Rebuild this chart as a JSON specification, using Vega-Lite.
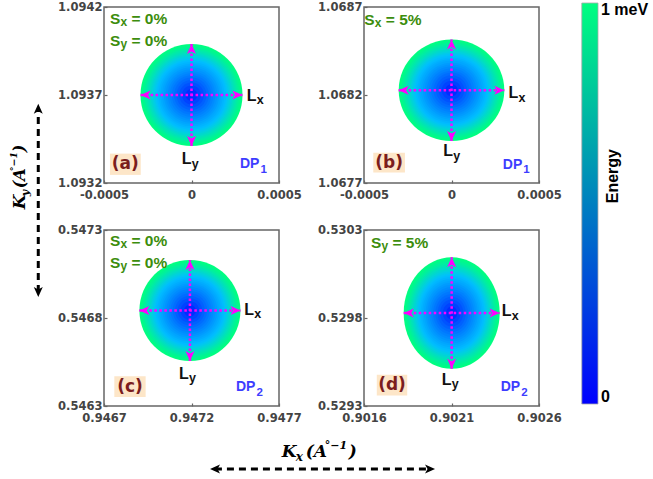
{
  "$schema": "https://vega.github.io/schema/vega-lite/v6.json",
  "padding": 0,
  "background": "white",
  "datasets": {
    "discs": [
      {"panel": "a", "kx": 0, "ky": 1.0937, "e": [1,0.96,0.92,0.88,0.84,0.8,0.76,0.72,0.68,0.64,0.6,0.56,0.52,0.48,0.44,0.4,0.36,0.32,0.28,0.24,0.2,0.16,0.12,0.08,0.04]},
      {"panel": "b", "kx": 0, "ky": 1.068227, "e": [1,0.96,0.92,0.88,0.84,0.8,0.76,0.72,0.68,0.64,0.6,0.56,0.52,0.48,0.44,0.4,0.36,0.32,0.28,0.24,0.2,0.16,0.12,0.08,0.04]},
      {"panel": "c", "kx": 0.947191, "ky": 0.546842, "e": [1,0.96,0.92,0.88,0.84,0.8,0.76,0.72,0.68,0.64,0.6,0.56,0.52,0.48,0.44,0.4,0.36,0.32,0.28,0.24,0.2,0.16,0.12,0.08,0.04]},
      {"panel": "d", "kx": 0.902101, "ky": 0.529828, "e": [1,0.96,0.92,0.88,0.84,0.8,0.76,0.72,0.68,0.64,0.6,0.56,0.52,0.48,0.44,0.4,0.36,0.32,0.28,0.24,0.2,0.16,0.12,0.08,0.04]}
    ],
    "arrows": [
      {"panel": "a", "kx": -0.000291, "kx2": 0.000291, "ky": 1.0937, "ky2": 1.0937},
      {"panel": "a", "kx": 0, "kx2": 0, "ky": 1.09341, "ky2": 1.09399},
      {"panel": "b", "kx": -0.000302, "kx2": 0.000302, "ky": 1.068227, "ky2": 1.068227},
      {"panel": "b", "kx": 0, "kx2": 0, "ky": 1.067938, "ky2": 1.068516},
      {"panel": "c", "kx": 0.946902, "kx2": 0.94748, "ky": 0.546842, "ky2": 0.546842},
      {"panel": "c", "kx": 0.947191, "kx2": 0.947191, "ky": 0.546555, "ky2": 0.547129},
      {"panel": "d", "kx": 0.901827, "kx2": 0.902375, "ky": 0.529828, "ky2": 0.529828},
      {"panel": "d", "kx": 0.902101, "kx2": 0.902101, "ky": 0.529511, "ky2": 0.530145}
    ],
    "heads": [
      {"panel": "a", "kx": -0.000291, "ky": 1.0937, "dir": "left"},
      {"panel": "a", "kx": 0.000291, "ky": 1.0937, "dir": "right"},
      {"panel": "a", "kx": 0, "ky": 1.09399, "dir": "up"},
      {"panel": "a", "kx": 0, "ky": 1.09341, "dir": "down"},
      {"panel": "b", "kx": -0.000302, "ky": 1.068227, "dir": "left"},
      {"panel": "b", "kx": 0.000302, "ky": 1.068227, "dir": "right"},
      {"panel": "b", "kx": 0, "ky": 1.068516, "dir": "up"},
      {"panel": "b", "kx": 0, "ky": 1.067938, "dir": "down"},
      {"panel": "c", "kx": 0.946902, "ky": 0.546842, "dir": "left"},
      {"panel": "c", "kx": 0.94748, "ky": 0.546842, "dir": "right"},
      {"panel": "c", "kx": 0.947191, "ky": 0.547129, "dir": "up"},
      {"panel": "c", "kx": 0.947191, "ky": 0.546555, "dir": "down"},
      {"panel": "d", "kx": 0.901827, "ky": 0.529828, "dir": "left"},
      {"panel": "d", "kx": 0.902375, "ky": 0.529828, "dir": "right"},
      {"panel": "d", "kx": 0.902101, "ky": 0.530145, "dir": "up"},
      {"panel": "d", "kx": 0.902101, "ky": 0.529511, "dir": "down"}
    ],
    "boxes": [
      {"panel": "a", "kx": -0.000466, "kx2": -0.00029, "ky": 1.093367, "ky2": 1.093246},
      {"panel": "b", "kx": -0.000447, "kx2": -0.000266, "ky": 1.067872, "ky2": 1.067759},
      {"panel": "c", "kx": 0.946759, "kx2": 0.946938, "ky": 0.546469, "ky2": 0.546351},
      {"panel": "d", "kx": 0.901673, "kx2": 0.901847, "ky": 0.529478, "ky2": 0.529359}
    ],
    "labels": [
      {"panel": "a", "kind": "s", "kx": -0.000466, "ky": 1.094102, "main": "S", "sub": "x", "rest": "= 0%"},
      {"panel": "a", "kind": "s", "kx": -0.000466, "ky": 1.093978, "main": "S", "sub": "y", "rest": "= 0%"},
      {"panel": "a", "kind": "L", "kx": 0.000315, "ky": 1.093666, "main": "L", "sub": "x"},
      {"panel": "a", "kind": "L", "kx": -0.000056, "ky": 1.093306, "main": "L", "sub": "y"},
      {"panel": "a", "kind": "dp", "kx": 0.000277, "ky": 1.093285, "main": "DP", "sub": "1"},
      {"panel": "a", "kind": "tag", "kx": -0.000378, "ky": 1.093306, "main": "(a)"},
      {"panel": "b", "kind": "s", "kx": -0.000498, "ky": 1.068598, "main": "S", "sub": "x", "rest": "= 5%"},
      {"panel": "b", "kind": "L", "kx": 0.000325, "ky": 1.068181, "main": "L", "sub": "x"},
      {"panel": "b", "kind": "L", "kx": -0.000047, "ky": 1.067853, "main": "L", "sub": "y"},
      {"panel": "b", "kind": "dp", "kx": 0.000293, "ky": 1.067781, "main": "DP", "sub": "1"},
      {"panel": "b", "kind": "tag", "kx": -0.000356, "ky": 1.067815, "main": "(b)"},
      {"panel": "c", "kind": "s", "kx": 0.946734, "ky": 0.547207, "main": "S", "sub": "x", "rest": "= 0%"},
      {"panel": "c", "kind": "s", "kx": 0.946734, "ky": 0.547084, "main": "S", "sub": "y", "rest": "= 0%"},
      {"panel": "c", "kind": "L", "kx": 0.947502, "ky": 0.546819, "main": "L", "sub": "x"},
      {"panel": "c", "kind": "L", "kx": 0.947129, "ky": 0.546455, "main": "L", "sub": "y"},
      {"panel": "c", "kind": "dp", "kx": 0.947454, "ky": 0.546384, "main": "DP", "sub": "2"},
      {"panel": "c", "kind": "tag", "kx": 0.946849, "ky": 0.54641, "main": "(c)"},
      {"panel": "d", "kind": "s", "kx": 0.90164, "ky": 0.530198, "main": "S", "sub": "y", "rest": "= 5%"},
      {"panel": "d", "kind": "L", "kx": 0.902387, "ky": 0.52981, "main": "L", "sub": "x"},
      {"panel": "d", "kind": "L", "kx": 0.902044, "ky": 0.529421, "main": "L", "sub": "y"},
      {"panel": "d", "kind": "dp", "kx": 0.902381, "ky": 0.529384, "main": "DP", "sub": "2"},
      {"panel": "d", "kind": "tag", "kx": 0.90176, "ky": 0.529418, "main": "(d)"}
    ],
    "ytitle": [{"u": 0.57, "v": 0.4904, "k": "K", "s": "y", "a": "(A", "p": "°−1", "c": ")"}],
    "xtitle": [{"u": 0.4085, "v": 0.494, "k": "K", "s": "x", "a": "(A", "p": "°−1", "c": ")"}],
    "cbtext": [
      {"u": 1.13, "v": 0.981, "t": "1 meV", "kind": "end"},
      {"u": 1.13, "v": 0.0058, "t": "0", "kind": "end"},
      {"u": 1.87, "v": 0.574, "t": "Energy", "kind": "title"}
    ]
  },
  "hconcat": [
    {
      "width": 43, "height": 397, "view": {"stroke": null},
      "encoding": {
        "x": {"field": "u", "type": "quantitative", "scale": {"domain": [0, 1]}, "axis": null},
        "y": {"field": "v", "type": "quantitative", "scale": {"domain": [0, 1]}, "axis": null}
      },
      "layer": [
        {"data": {"values": [{"u": 0.89, "v": 0.282, "v2": 0.744}]}, "mark": {"type": "rule", "color": "black", "strokeWidth": 3, "strokeDash": [7, 5]}, "encoding": {"y2": {"field": "v2"}}},
        {"data": {"values": [{"u": 0.89, "v": 0.7564, "dir": "up"}, {"u": 0.89, "v": 0.2695, "dir": "down"}]}, "mark": {"type": "point", "filled": true, "opacity": 1, "strokeWidth": 0, "color": "black", "size": 400},
         "encoding": {"shape": {"field": "dir", "type": "nominal", "scale": {"domain": ["left", "right", "up", "down"], "range": ["M0,0L1,-0.45L0.75,0L1,0.45Z", "M0,0L-1,-0.45L-0.75,0L-1,0.45Z", "M0,0L-0.45,1L0,0.75L0.45,1Z", "M0,0L-0.45,-1L0,-0.75L0.45,-1Z"]}, "legend": null}}},
        {"data": {"name": "ytitle"}, "mark": {"type": "text", "angle": 270, "align": "left", "baseline": "alphabetic", "font": "DejaVu Serif", "fontStyle": "italic", "fontWeight": "bold", "fontSize": 17, "color": "black"}, "encoding": {"text": {"field": "k"}}},
        {"data": {"name": "ytitle"}, "mark": {"type": "text", "angle": 270, "align": "left", "baseline": "alphabetic", "font": "DejaVu Serif", "fontStyle": "italic", "fontWeight": "bold", "fontSize": 11, "color": "black", "dx": 13, "dy": 4}, "encoding": {"text": {"field": "s"}}},
        {"data": {"name": "ytitle"}, "mark": {"type": "text", "angle": 270, "align": "left", "baseline": "alphabetic", "font": "DejaVu Serif", "fontStyle": "italic", "fontWeight": "bold", "fontSize": 16, "color": "black", "dx": 21}, "encoding": {"text": {"field": "a"}}},
        {"data": {"name": "ytitle"}, "mark": {"type": "text", "angle": 270, "align": "left", "baseline": "alphabetic", "font": "DejaVu Serif", "fontStyle": "italic", "fontWeight": "bold", "fontSize": 9.5, "color": "black", "dx": 38, "dy": -8}, "encoding": {"text": {"field": "p"}}},
        {"data": {"name": "ytitle"}, "mark": {"type": "text", "angle": 270, "align": "left", "baseline": "alphabetic", "font": "DejaVu Serif", "fontStyle": "italic", "fontWeight": "bold", "fontSize": 16, "color": "black", "dx": 57}, "encoding": {"text": {"field": "c"}}}
      ]
    },
    {
      "spacing": 7,
      "vconcat": [
        {
          "spacing": 21,
          "vconcat": [
            {
              "bounds": "flush",
              "spacing": 85,
              "hconcat": [
                {
                  "width": 175, "height": 176,
                  "encoding": {
                    "x": {"field": "kx", "type": "quantitative", "scale": {"domain": [-0.0005, 0.0005], "nice": false, "zero": false}, "axis": {"values": [-0.0005, 0, 0.0005], "labelExpr": "datum.value == 0 ? '0' : (datum.value < 0 ? '-' : '') + format(abs(datum.value), '.4f')", "title": null}},
                    "y": {"field": "ky", "type": "quantitative", "scale": {"domain": [1.0932, 1.0942], "nice": false, "zero": false}, "axis": {"values": [1.0932, 1.0937, 1.0942], "format": ".4f", "title": null}}
                  },
                  "layer": [
                    {"data": {"name": "discs"}, "transform": [{"filter": "datum.panel=='a'"}, {"flatten": ["e"]}], "mark": {"type": "point", "filled": true, "opacity": 1, "strokeWidth": 0, "shape": "M0.911,0C0.911,0.503,0.503,0.911,0,0.911C-0.503,0.911,-0.911,0.503,-0.911,0C-0.911,-0.503,-0.503,-0.911,0,-0.911C0.503,-0.911,0.911,-0.503,0.911,0Z"},
                     "encoding": {"size": {"field": "e", "type": "quantitative", "scale": {"type": "pow", "exponent": 1.333, "domain": [0, 1], "range": [0, 12544], "zero": true}, "legend": null}, "color": {"field": "e", "type": "quantitative", "scale": {"domain": [0, 1], "range": ["#0000ff", "#00ff80"]}, "legend": null}}},
                    {"data": {"name": "arrows"}, "transform": [{"filter": "datum.panel=='a'"}], "mark": {"type": "rule", "color": "#ff00ff", "strokeWidth": 2.5, "strokeDash": [2.5, 2.5]}, "encoding": {"x2": {"field": "kx2"}, "y2": {"field": "ky2"}}},
                    {"data": {"name": "heads"}, "transform": [{"filter": "datum.panel=='a'"}], "mark": {"type": "point", "filled": true, "opacity": 1, "strokeWidth": 0, "color": "#ff00ff", "size": 400},
                     "encoding": {"shape": {"field": "dir", "type": "nominal", "scale": {"domain": ["left", "right", "up", "down"], "range": ["M0,0L1,-0.45L0.75,0L1,0.45Z", "M0,0L-1,-0.45L-0.75,0L-1,0.45Z", "M0,0L-0.45,1L0,0.75L0.45,1Z", "M0,0L-0.45,-1L0,-0.75L0.45,-1Z"]}, "legend": null}}},
                    {"data": {"name": "boxes"}, "transform": [{"filter": "datum.panel=='a'"}], "mark": {"type": "rect", "color": "#fde6c8"}, "encoding": {"x2": {"field": "kx2"}, "y2": {"field": "ky2"}}},
                    {"data": {"name": "labels"}, "transform": [{"filter": "datum.panel=='a' && datum.kind=='tag'"}], "mark": {"type": "text", "font": "DejaVu Sans", "fontWeight": "bold", "fontSize": 17, "color": "#7b1d1d", "align": "center", "baseline": "middle"}, "encoding": {"text": {"field": "main"}}},
                    {"data": {"name": "labels"}, "transform": [{"filter": "datum.panel=='a' && datum.kind=='s'"}], "mark": {"type": "text", "font": "Liberation Sans", "fontWeight": "bold", "fontSize": 15.5, "color": "#3c8d0d", "align": "left", "baseline": "alphabetic"}, "encoding": {"text": {"field": "main"}}},
                    {"data": {"name": "labels"}, "transform": [{"filter": "datum.panel=='a' && datum.kind=='s'"}], "mark": {"type": "text", "font": "Liberation Sans", "fontWeight": "bold", "fontSize": 12, "color": "#3c8d0d", "align": "left", "baseline": "alphabetic", "dx": 10.5, "dy": 2}, "encoding": {"text": {"field": "sub"}}},
                    {"data": {"name": "labels"}, "transform": [{"filter": "datum.panel=='a' && datum.kind=='s'"}], "mark": {"type": "text", "font": "Liberation Sans", "fontWeight": "bold", "fontSize": 15.5, "color": "#3c8d0d", "align": "left", "baseline": "alphabetic", "dx": 21.5}, "encoding": {"text": {"field": "rest"}}},
                    {"data": {"name": "labels"}, "transform": [{"filter": "datum.panel=='a' && datum.kind=='L'"}], "mark": {"type": "text", "font": "Liberation Sans", "fontWeight": "bold", "fontSize": 16, "color": "#111111", "align": "left", "baseline": "alphabetic"}, "encoding": {"text": {"field": "main"}}},
                    {"data": {"name": "labels"}, "transform": [{"filter": "datum.panel=='a' && datum.kind=='L'"}], "mark": {"type": "text", "font": "Liberation Sans", "fontWeight": "bold", "fontSize": 12.5, "color": "#111111", "align": "left", "baseline": "alphabetic", "dx": 10, "dy": 3.5}, "encoding": {"text": {"field": "sub"}}},
                    {"data": {"name": "labels"}, "transform": [{"filter": "datum.panel=='a' && datum.kind=='dp'"}], "mark": {"type": "text", "font": "Liberation Sans", "fontWeight": "bold", "fontSize": 14, "color": "#3d3dff", "align": "left", "baseline": "alphabetic"}, "encoding": {"text": {"field": "main"}}},
                    {"data": {"name": "labels"}, "transform": [{"filter": "datum.panel=='a' && datum.kind=='dp'"}], "mark": {"type": "text", "font": "Liberation Sans", "fontWeight": "bold", "fontSize": 11.5, "color": "#3d3dff", "align": "left", "baseline": "alphabetic", "dx": 20.5, "dy": 4.5}, "encoding": {"text": {"field": "sub"}}}
                  ]
                },
                {
                  "width": 175, "height": 176,
                  "encoding": {
                    "x": {"field": "kx", "type": "quantitative", "scale": {"domain": [-0.0005, 0.0005], "nice": false, "zero": false}, "axis": {"values": [-0.0005, 0, 0.0005], "labelExpr": "datum.value == 0 ? '0' : (datum.value < 0 ? '-' : '') + format(abs(datum.value), '.4f')", "title": null}},
                    "y": {"field": "ky", "type": "quantitative", "scale": {"domain": [1.0677, 1.0687], "nice": false, "zero": false}, "axis": {"values": [1.0677, 1.0682, 1.0687], "format": ".4f", "title": null}}
                  },
                  "layer": [
                    {"data": {"name": "discs"}, "transform": [{"filter": "datum.panel=='b'"}, {"flatten": ["e"]}], "mark": {"type": "point", "filled": true, "opacity": 1, "strokeWidth": 0, "shape": "M0.943,0C0.943,0.501,0.521,0.907,0,0.907C-0.521,0.907,-0.943,0.501,-0.943,0C-0.943,-0.501,-0.521,-0.907,0,-0.907C0.521,-0.907,0.943,-0.501,0.943,0Z"},
                     "encoding": {"size": {"field": "e", "type": "quantitative", "scale": {"type": "pow", "exponent": 1.333, "domain": [0, 1], "range": [0, 12544], "zero": true}, "legend": null}, "color": {"field": "e", "type": "quantitative", "scale": {"domain": [0, 1], "range": ["#0000ff", "#00ff80"]}, "legend": null}}},
                    {"data": {"name": "arrows"}, "transform": [{"filter": "datum.panel=='b'"}], "mark": {"type": "rule", "color": "#ff00ff", "strokeWidth": 2.5, "strokeDash": [2.5, 2.5]}, "encoding": {"x2": {"field": "kx2"}, "y2": {"field": "ky2"}}},
                    {"data": {"name": "heads"}, "transform": [{"filter": "datum.panel=='b'"}], "mark": {"type": "point", "filled": true, "opacity": 1, "strokeWidth": 0, "color": "#ff00ff", "size": 400},
                     "encoding": {"shape": {"field": "dir", "type": "nominal", "scale": {"domain": ["left", "right", "up", "down"], "range": ["M0,0L1,-0.45L0.75,0L1,0.45Z", "M0,0L-1,-0.45L-0.75,0L-1,0.45Z", "M0,0L-0.45,1L0,0.75L0.45,1Z", "M0,0L-0.45,-1L0,-0.75L0.45,-1Z"]}, "legend": null}}},
                    {"data": {"name": "boxes"}, "transform": [{"filter": "datum.panel=='b'"}], "mark": {"type": "rect", "color": "#fde6c8"}, "encoding": {"x2": {"field": "kx2"}, "y2": {"field": "ky2"}}},
                    {"data": {"name": "labels"}, "transform": [{"filter": "datum.panel=='b' && datum.kind=='tag'"}], "mark": {"type": "text", "font": "DejaVu Sans", "fontWeight": "bold", "fontSize": 17, "color": "#7b1d1d", "align": "center", "baseline": "middle"}, "encoding": {"text": {"field": "main"}}},
                    {"data": {"name": "labels"}, "transform": [{"filter": "datum.panel=='b' && datum.kind=='s'"}], "mark": {"type": "text", "font": "Liberation Sans", "fontWeight": "bold", "fontSize": 15.5, "color": "#3c8d0d", "align": "left", "baseline": "alphabetic"}, "encoding": {"text": {"field": "main"}}},
                    {"data": {"name": "labels"}, "transform": [{"filter": "datum.panel=='b' && datum.kind=='s'"}], "mark": {"type": "text", "font": "Liberation Sans", "fontWeight": "bold", "fontSize": 12, "color": "#3c8d0d", "align": "left", "baseline": "alphabetic", "dx": 10.5, "dy": 2}, "encoding": {"text": {"field": "sub"}}},
                    {"data": {"name": "labels"}, "transform": [{"filter": "datum.panel=='b' && datum.kind=='s'"}], "mark": {"type": "text", "font": "Liberation Sans", "fontWeight": "bold", "fontSize": 15.5, "color": "#3c8d0d", "align": "left", "baseline": "alphabetic", "dx": 21.5}, "encoding": {"text": {"field": "rest"}}},
                    {"data": {"name": "labels"}, "transform": [{"filter": "datum.panel=='b' && datum.kind=='L'"}], "mark": {"type": "text", "font": "Liberation Sans", "fontWeight": "bold", "fontSize": 16, "color": "#111111", "align": "left", "baseline": "alphabetic"}, "encoding": {"text": {"field": "main"}}},
                    {"data": {"name": "labels"}, "transform": [{"filter": "datum.panel=='b' && datum.kind=='L'"}], "mark": {"type": "text", "font": "Liberation Sans", "fontWeight": "bold", "fontSize": 12.5, "color": "#111111", "align": "left", "baseline": "alphabetic", "dx": 10, "dy": 3.5}, "encoding": {"text": {"field": "sub"}}},
                    {"data": {"name": "labels"}, "transform": [{"filter": "datum.panel=='b' && datum.kind=='dp'"}], "mark": {"type": "text", "font": "Liberation Sans", "fontWeight": "bold", "fontSize": 14, "color": "#3d3dff", "align": "left", "baseline": "alphabetic"}, "encoding": {"text": {"field": "main"}}},
                    {"data": {"name": "labels"}, "transform": [{"filter": "datum.panel=='b' && datum.kind=='dp'"}], "mark": {"type": "text", "font": "Liberation Sans", "fontWeight": "bold", "fontSize": 11.5, "color": "#3d3dff", "align": "left", "baseline": "alphabetic", "dx": 20.5, "dy": 4.5}, "encoding": {"text": {"field": "sub"}}}
                  ]
                }
              ]
            },
            {
              "bounds": "flush",
              "spacing": 85,
              "hconcat": [
                {
                  "width": 175, "height": 176,
                  "encoding": {
                    "x": {"field": "kx", "type": "quantitative", "scale": {"domain": [0.9467, 0.9477], "nice": false, "zero": false}, "axis": {"values": [0.9467, 0.9472, 0.9477], "format": ".4f", "title": null}},
                    "y": {"field": "ky", "type": "quantitative", "scale": {"domain": [0.5463, 0.5473], "nice": false, "zero": false}, "axis": {"values": [0.5463, 0.5468, 0.5473], "format": ".4f", "title": null}}
                  },
                  "layer": [
                    {"data": {"name": "discs"}, "transform": [{"filter": "datum.panel=='c'"}, {"flatten": ["e"]}], "mark": {"type": "point", "filled": true, "opacity": 1, "strokeWidth": 0, "shape": "M0.902,0C0.902,0.498,0.498,0.902,0,0.902C-0.498,0.902,-0.902,0.498,-0.902,0C-0.902,-0.498,-0.498,-0.902,0,-0.902C0.498,-0.902,0.902,-0.498,0.902,0Z"},
                     "encoding": {"size": {"field": "e", "type": "quantitative", "scale": {"type": "pow", "exponent": 1.333, "domain": [0, 1], "range": [0, 12544], "zero": true}, "legend": null}, "color": {"field": "e", "type": "quantitative", "scale": {"domain": [0, 1], "range": ["#0000ff", "#00ff80"]}, "legend": null}}},
                    {"data": {"name": "arrows"}, "transform": [{"filter": "datum.panel=='c'"}], "mark": {"type": "rule", "color": "#ff00ff", "strokeWidth": 2.5, "strokeDash": [2.5, 2.5]}, "encoding": {"x2": {"field": "kx2"}, "y2": {"field": "ky2"}}},
                    {"data": {"name": "heads"}, "transform": [{"filter": "datum.panel=='c'"}], "mark": {"type": "point", "filled": true, "opacity": 1, "strokeWidth": 0, "color": "#ff00ff", "size": 400},
                     "encoding": {"shape": {"field": "dir", "type": "nominal", "scale": {"domain": ["left", "right", "up", "down"], "range": ["M0,0L1,-0.45L0.75,0L1,0.45Z", "M0,0L-1,-0.45L-0.75,0L-1,0.45Z", "M0,0L-0.45,1L0,0.75L0.45,1Z", "M0,0L-0.45,-1L0,-0.75L0.45,-1Z"]}, "legend": null}}},
                    {"data": {"name": "boxes"}, "transform": [{"filter": "datum.panel=='c'"}], "mark": {"type": "rect", "color": "#fde6c8"}, "encoding": {"x2": {"field": "kx2"}, "y2": {"field": "ky2"}}},
                    {"data": {"name": "labels"}, "transform": [{"filter": "datum.panel=='c' && datum.kind=='tag'"}], "mark": {"type": "text", "font": "DejaVu Sans", "fontWeight": "bold", "fontSize": 17, "color": "#7b1d1d", "align": "center", "baseline": "middle"}, "encoding": {"text": {"field": "main"}}},
                    {"data": {"name": "labels"}, "transform": [{"filter": "datum.panel=='c' && datum.kind=='s'"}], "mark": {"type": "text", "font": "Liberation Sans", "fontWeight": "bold", "fontSize": 15.5, "color": "#3c8d0d", "align": "left", "baseline": "alphabetic"}, "encoding": {"text": {"field": "main"}}},
                    {"data": {"name": "labels"}, "transform": [{"filter": "datum.panel=='c' && datum.kind=='s'"}], "mark": {"type": "text", "font": "Liberation Sans", "fontWeight": "bold", "fontSize": 12, "color": "#3c8d0d", "align": "left", "baseline": "alphabetic", "dx": 10.5, "dy": 2}, "encoding": {"text": {"field": "sub"}}},
                    {"data": {"name": "labels"}, "transform": [{"filter": "datum.panel=='c' && datum.kind=='s'"}], "mark": {"type": "text", "font": "Liberation Sans", "fontWeight": "bold", "fontSize": 15.5, "color": "#3c8d0d", "align": "left", "baseline": "alphabetic", "dx": 21.5}, "encoding": {"text": {"field": "rest"}}},
                    {"data": {"name": "labels"}, "transform": [{"filter": "datum.panel=='c' && datum.kind=='L'"}], "mark": {"type": "text", "font": "Liberation Sans", "fontWeight": "bold", "fontSize": 16, "color": "#111111", "align": "left", "baseline": "alphabetic"}, "encoding": {"text": {"field": "main"}}},
                    {"data": {"name": "labels"}, "transform": [{"filter": "datum.panel=='c' && datum.kind=='L'"}], "mark": {"type": "text", "font": "Liberation Sans", "fontWeight": "bold", "fontSize": 12.5, "color": "#111111", "align": "left", "baseline": "alphabetic", "dx": 10, "dy": 3.5}, "encoding": {"text": {"field": "sub"}}},
                    {"data": {"name": "labels"}, "transform": [{"filter": "datum.panel=='c' && datum.kind=='dp'"}], "mark": {"type": "text", "font": "Liberation Sans", "fontWeight": "bold", "fontSize": 14, "color": "#3d3dff", "align": "left", "baseline": "alphabetic"}, "encoding": {"text": {"field": "main"}}},
                    {"data": {"name": "labels"}, "transform": [{"filter": "datum.panel=='c' && datum.kind=='dp'"}], "mark": {"type": "text", "font": "Liberation Sans", "fontWeight": "bold", "fontSize": 11.5, "color": "#3d3dff", "align": "left", "baseline": "alphabetic", "dx": 20.5, "dy": 4.5}, "encoding": {"text": {"field": "sub"}}}
                  ]
                },
                {
                  "width": 175, "height": 176,
                  "encoding": {
                    "x": {"field": "kx", "type": "quantitative", "scale": {"domain": [0.9016, 0.9026], "nice": false, "zero": false}, "axis": {"values": [0.9016, 0.9021, 0.9026], "format": ".4f", "title": null}},
                    "y": {"field": "ky", "type": "quantitative", "scale": {"domain": [0.5293, 0.5303], "nice": false, "zero": false}, "axis": {"values": [0.5293, 0.5298, 0.5303], "format": ".4f", "title": null}}
                  },
                  "layer": [
                    {"data": {"name": "discs"}, "transform": [{"filter": "datum.panel=='d'"}, {"flatten": ["e"]}], "mark": {"type": "point", "filled": true, "opacity": 1, "strokeWidth": 0, "shape": "M0.857,0C0.857,0.55,0.473,0.996,0,0.996C-0.473,0.996,-0.857,0.55,-0.857,0C-0.857,-0.55,-0.473,-0.996,0,-0.996C0.473,-0.996,0.857,-0.55,0.857,0Z"},
                     "encoding": {"size": {"field": "e", "type": "quantitative", "scale": {"type": "pow", "exponent": 1.333, "domain": [0, 1], "range": [0, 12544], "zero": true}, "legend": null}, "color": {"field": "e", "type": "quantitative", "scale": {"domain": [0, 1], "range": ["#0000ff", "#00ff80"]}, "legend": null}}},
                    {"data": {"name": "arrows"}, "transform": [{"filter": "datum.panel=='d'"}], "mark": {"type": "rule", "color": "#ff00ff", "strokeWidth": 2.5, "strokeDash": [2.5, 2.5]}, "encoding": {"x2": {"field": "kx2"}, "y2": {"field": "ky2"}}},
                    {"data": {"name": "heads"}, "transform": [{"filter": "datum.panel=='d'"}], "mark": {"type": "point", "filled": true, "opacity": 1, "strokeWidth": 0, "color": "#ff00ff", "size": 400},
                     "encoding": {"shape": {"field": "dir", "type": "nominal", "scale": {"domain": ["left", "right", "up", "down"], "range": ["M0,0L1,-0.45L0.75,0L1,0.45Z", "M0,0L-1,-0.45L-0.75,0L-1,0.45Z", "M0,0L-0.45,1L0,0.75L0.45,1Z", "M0,0L-0.45,-1L0,-0.75L0.45,-1Z"]}, "legend": null}}},
                    {"data": {"name": "boxes"}, "transform": [{"filter": "datum.panel=='d'"}], "mark": {"type": "rect", "color": "#fde6c8"}, "encoding": {"x2": {"field": "kx2"}, "y2": {"field": "ky2"}}},
                    {"data": {"name": "labels"}, "transform": [{"filter": "datum.panel=='d' && datum.kind=='tag'"}], "mark": {"type": "text", "font": "DejaVu Sans", "fontWeight": "bold", "fontSize": 17, "color": "#7b1d1d", "align": "center", "baseline": "middle"}, "encoding": {"text": {"field": "main"}}},
                    {"data": {"name": "labels"}, "transform": [{"filter": "datum.panel=='d' && datum.kind=='s'"}], "mark": {"type": "text", "font": "Liberation Sans", "fontWeight": "bold", "fontSize": 15.5, "color": "#3c8d0d", "align": "left", "baseline": "alphabetic"}, "encoding": {"text": {"field": "main"}}},
                    {"data": {"name": "labels"}, "transform": [{"filter": "datum.panel=='d' && datum.kind=='s'"}], "mark": {"type": "text", "font": "Liberation Sans", "fontWeight": "bold", "fontSize": 12, "color": "#3c8d0d", "align": "left", "baseline": "alphabetic", "dx": 10.5, "dy": 2}, "encoding": {"text": {"field": "sub"}}},
                    {"data": {"name": "labels"}, "transform": [{"filter": "datum.panel=='d' && datum.kind=='s'"}], "mark": {"type": "text", "font": "Liberation Sans", "fontWeight": "bold", "fontSize": 15.5, "color": "#3c8d0d", "align": "left", "baseline": "alphabetic", "dx": 21.5}, "encoding": {"text": {"field": "rest"}}},
                    {"data": {"name": "labels"}, "transform": [{"filter": "datum.panel=='d' && datum.kind=='L'"}], "mark": {"type": "text", "font": "Liberation Sans", "fontWeight": "bold", "fontSize": 16, "color": "#111111", "align": "left", "baseline": "alphabetic"}, "encoding": {"text": {"field": "main"}}},
                    {"data": {"name": "labels"}, "transform": [{"filter": "datum.panel=='d' && datum.kind=='L'"}], "mark": {"type": "text", "font": "Liberation Sans", "fontWeight": "bold", "fontSize": 12.5, "color": "#111111", "align": "left", "baseline": "alphabetic", "dx": 10, "dy": 3.5}, "encoding": {"text": {"field": "sub"}}},
                    {"data": {"name": "labels"}, "transform": [{"filter": "datum.panel=='d' && datum.kind=='dp'"}], "mark": {"type": "text", "font": "Liberation Sans", "fontWeight": "bold", "fontSize": 14, "color": "#3d3dff", "align": "left", "baseline": "alphabetic"}, "encoding": {"text": {"field": "main"}}},
                    {"data": {"name": "labels"}, "transform": [{"filter": "datum.panel=='d' && datum.kind=='dp'"}], "mark": {"type": "text", "font": "Liberation Sans", "fontWeight": "bold", "fontSize": 11.5, "color": "#3d3dff", "align": "left", "baseline": "alphabetic", "dx": 20.5, "dy": 4.5}, "encoding": {"text": {"field": "sub"}}}
                  ]
                }
              ]
            }
          ]
        },
        {
          "width": 435, "height": 50, "view": {"stroke": null},
          "encoding": {
            "x": {"field": "u", "type": "quantitative", "scale": {"domain": [0, 1]}, "axis": null},
            "y": {"field": "v", "type": "quantitative", "scale": {"domain": [0, 1]}, "axis": null}
          },
          "layer": [
            {"data": {"values": [{"u": 0.255, "u2": 0.75, "v": 0.26}]}, "mark": {"type": "rule", "color": "black", "strokeWidth": 3, "strokeDash": [7, 5]}, "encoding": {"x2": {"field": "u2"}}},
            {"data": {"values": [{"u": 0.2437, "v": 0.26, "dir": "left"}, {"u": 0.761, "v": 0.26, "dir": "right"}]}, "mark": {"type": "point", "filled": true, "opacity": 1, "strokeWidth": 0, "color": "black", "size": 400},
             "encoding": {"shape": {"field": "dir", "type": "nominal", "scale": {"domain": ["left", "right", "up", "down"], "range": ["M0,0L1,-0.45L0.75,0L1,0.45Z", "M0,0L-1,-0.45L-0.75,0L-1,0.45Z", "M0,0L-0.45,1L0,0.75L0.45,1Z", "M0,0L-0.45,-1L0,-0.75L0.45,-1Z"]}, "legend": null}}},
            {"data": {"name": "xtitle"}, "mark": {"type": "text", "align": "left", "baseline": "alphabetic", "font": "DejaVu Serif", "fontStyle": "italic", "fontWeight": "bold", "fontSize": 17, "color": "black"}, "encoding": {"text": {"field": "k"}}},
            {"data": {"name": "xtitle"}, "mark": {"type": "text", "align": "left", "baseline": "alphabetic", "font": "DejaVu Serif", "fontStyle": "italic", "fontWeight": "bold", "fontSize": 12, "color": "black", "dx": 14, "dy": 4}, "encoding": {"text": {"field": "s"}}},
            {"data": {"name": "xtitle"}, "mark": {"type": "text", "align": "left", "baseline": "alphabetic", "font": "DejaVu Serif", "fontStyle": "italic", "fontWeight": "bold", "fontSize": 17, "color": "black", "dx": 24}, "encoding": {"text": {"field": "a"}}},
            {"data": {"name": "xtitle"}, "mark": {"type": "text", "align": "left", "baseline": "alphabetic", "font": "DejaVu Serif", "fontStyle": "italic", "fontWeight": "bold", "fontSize": 11, "color": "black", "dx": 43, "dy": -8}, "encoding": {"text": {"field": "p"}}},
            {"data": {"name": "xtitle"}, "mark": {"type": "text", "align": "left", "baseline": "alphabetic", "font": "DejaVu Serif", "fontStyle": "italic", "fontWeight": "bold", "fontSize": 17, "color": "black", "dx": 67}, "encoding": {"text": {"field": "c"}}}
          ]
        }
      ]
    },
    {
      "width": 23, "height": 397, "view": {"stroke": null},
      "encoding": {
        "x": {"field": "u", "type": "quantitative", "scale": {"domain": [0, 1]}, "axis": null},
        "y": {"field": "v", "type": "quantitative", "scale": {"domain": [0, 1]}, "axis": null}
      },
      "layer": [
        {"data": {"values": [{"u": 0.296, "u2": 1, "v": 0, "v2": 1}]}, "mark": {"type": "rect", "fill": {"gradient": "linear", "x1": 0, "y1": 1, "x2": 0, "y2": 0, "stops": [{"offset": 0, "color": "#0000ff"}, {"offset": 1, "color": "#00ff80"}]}, "stroke": "#aaaaaa", "strokeWidth": 0.8, "y2Offset": -4}, "encoding": {"x2": {"field": "u2"}, "y2": {"field": "v2"}}},
        {"data": {"name": "cbtext"}, "transform": [{"filter": "datum.kind=='end'"}], "mark": {"type": "text", "align": "left", "baseline": "alphabetic", "font": "Liberation Sans", "fontWeight": "bold", "fontSize": 16, "color": "black"}, "encoding": {"text": {"field": "t"}}},
        {"data": {"name": "cbtext"}, "transform": [{"filter": "datum.kind=='title'"}], "mark": {"type": "text", "angle": 270, "align": "center", "baseline": "alphabetic", "font": "Liberation Sans", "fontWeight": "bold", "fontSize": 16, "color": "black"}, "encoding": {"text": {"field": "t"}}}
      ]
    }
  ],
  "spacing": 13,
  "config": {
    "view": {"stroke": "#666666", "strokeWidth": 1.5},
    "axis": {"domain": false, "grid": false, "labelFont": "DejaVu Sans", "labelFontWeight": "bold", "labelFontSize": 11.5, "labelColor": "#444444", "tickColor": "#666666", "tickSize": -3, "tickWidth": 1.2, "labelPadding": 5, "labelFlush": false, "labelOverlap": false},
    "axisX": {"labelPadding": 9}
  }
}
